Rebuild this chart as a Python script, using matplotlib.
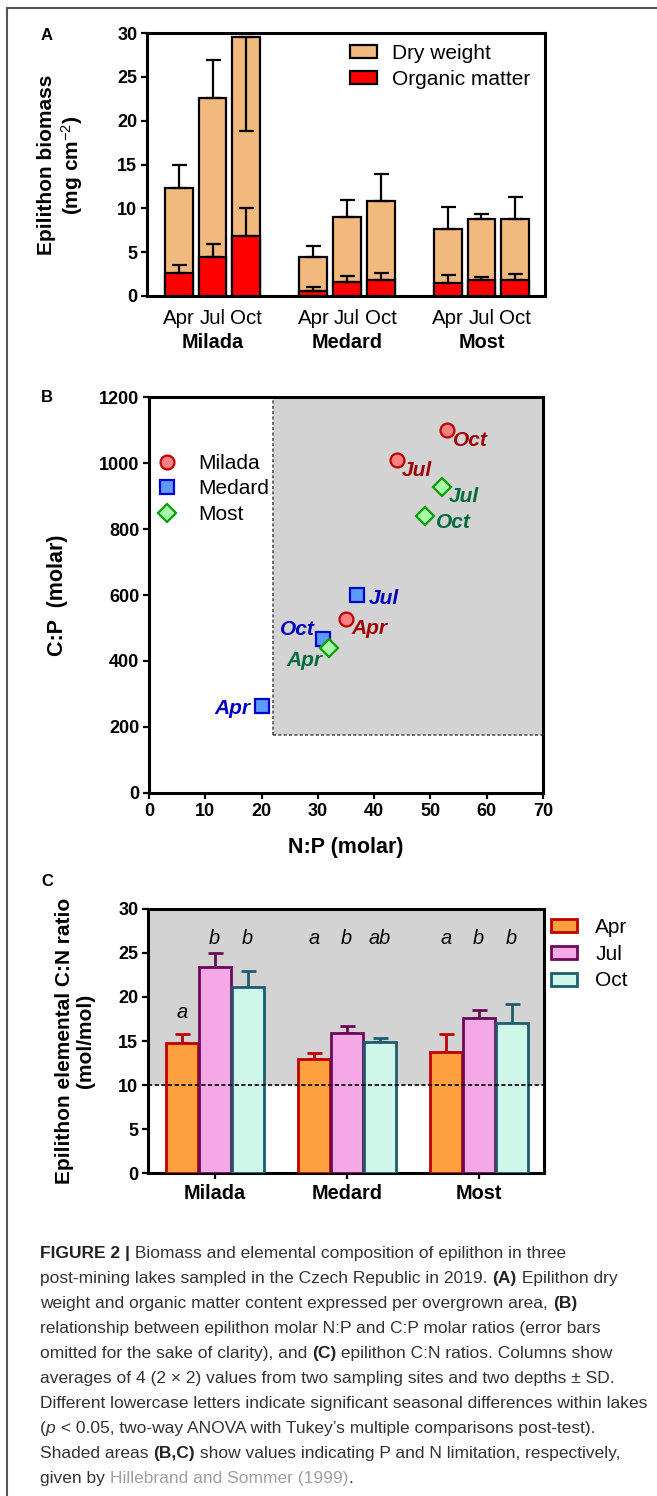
import numpy as np
import matplotlib.pyplot as plt
from matplotlib.lines import Line2D

plt.rcParams['font.family'] = ['Liberation Sans', 'DejaVu Sans']
plt.rcParams['mathtext.fontset'] = 'custom'
plt.rcParams['mathtext.rm'] = 'Liberation Sans'
plt.rcParams['mathtext.it'] = 'Liberation Sans:italic'
plt.rcParams['mathtext.bf'] = 'Liberation Sans:bold'

lakes = ['Milada', 'Medard', 'Most']
months = ['Apr', 'Jul', 'Oct']

# A: biomass (mg cm-2), order Milada Apr/Jul/Oct, Medard ..., Most ...
dry_weight = [12.3, 22.6, 29.5, 4.4, 9.0, 10.8, 7.6, 8.8, 8.8]
dry_sd_up = [2.7, 4.3, 0.0, 1.3, 1.9, 3.1, 2.5, 0.6, 2.5]
dry_sd_down = [0, 0, 10.7, 0, 0, 0, 0, 0, 0]
organic = [2.6, 4.5, 6.8, 0.6, 1.6, 1.8, 1.5, 1.8, 1.8]
organic_sd = [0.9, 1.4, 3.2, 0.4, 0.7, 0.8, 0.9, 0.4, 0.7]

# B: N:P vs C:P (molar), points Apr/Jul/Oct
np_ratio = {'Milada': [35, 44, 53], 'Medard': [20, 37, 31], 'Most': [32, 52, 49]}
cp_ratio = {'Milada': [527, 1008, 1101], 'Medard': [265, 601, 467], 'Most': [440, 927, 838]}
np_limit = 22
cp_limit = 175

# C: C:N ratio (mol/mol), per lake
cn_apr = [14.8, 12.9, 13.75]
cn_apr_sd = [0.95, 0.7, 2.0]
cn_jul = [23.4, 15.9, 17.6]
cn_jul_sd = [1.6, 0.85, 0.95]
cn_oct = [21.1, 14.85, 17.0]
cn_oct_sd = [1.85, 0.45, 2.25]
letters = [['a', 'b', 'b'], ['a', 'b', 'ab'], ['a', 'b', 'b']]
cn_limit = 10

W, H = 657, 1496
fig = plt.figure(figsize=(W / 100, H / 100), dpi=100)


def rect(l, t, r, b):
    return [l / W, 1 - b / H, (r - l) / W, (b - t) / H]


def style_axes(ax):
    for s in ax.spines.values():
        s.set_linewidth(2.2)
    ax.tick_params(width=1.6, length=4.5, labelsize=13, pad=2.5)
    for lab in ax.get_yticklabels():
        lab.set_fontweight('bold')


# ---------- A ----------
axA = fig.add_axes(rect(147, 33, 545, 296))
xa = [4 * g + m for g in range(len(lakes)) for m in range(len(months))]
axA.bar(xa, dry_weight, 0.83, color='#F2B97F', edgecolor='black', lw=1.6, zorder=2,
        label='Dry weight')
axA.errorbar(xa, dry_weight, yerr=[dry_sd_down, dry_sd_up], fmt='none', ecolor='black',
             elinewidth=1.6, capsize=5.4, capthick=1.6, zorder=3)
axA.bar(xa, organic, 0.83, color='#FF0000', edgecolor='black', lw=1.6, zorder=4,
        label='Organic matter')
axA.errorbar(xa, organic, yerr=[np.zeros(len(organic)), organic_sd], fmt='none',
             ecolor='black', elinewidth=1.6, capsize=5.4, capthick=1.6, zorder=5)
axA.set_ylim(0, 30)
axA.set_yticks(range(0, 31, 5))
axA.set_xlim(-0.95, 10.89)
style_axes(axA)
axA.set_xticks(xa, months * len(lakes))
axA.tick_params(axis='x', length=0, pad=9.5, labelsize=14.8)
for g, lake in enumerate(lakes):
    axA.text(4 * g + 1, -0.175, lake, transform=axA.get_xaxis_transform(),
             ha='center', va='center', fontweight='bold', fontsize=14.3)
axA.legend(loc='upper left', bbox_to_anchor=(0.51, 0.96), frameon=False, fontsize=15,
           handlelength=1.3, handleheight=0.58, handletextpad=0.7, labelspacing=0.35,
           borderpad=0, borderaxespad=0)

# ---------- B ----------
axB = fig.add_axes(rect(149, 397, 543, 793))
axB.fill_between([np_limit, 70], cp_limit, 1200, color='#D3D3D3', zorder=0, lw=0)
axB.plot([np_limit, np_limit], [cp_limit, 1200], ls=(0, (2, 1.5)), color='#444444', lw=1.1, zorder=1)
axB.plot([np_limit, 70], [cp_limit, cp_limit], ls=(0, (2, 1.5)), color='#444444', lw=1.1, zorder=1)

point_style = {
    'Milada': dict(marker='o', ms=10, mfc='#FF8080', mec='#C00000', text='#A00000'),
    'Medard': dict(marker='s', ms=9.5, mfc='#5B9BFF', mec='#0000CC', text='#0000C0'),
    'Most': dict(marker='D', ms=9, mfc='#A8FFA8', mec='#00A000', text='#006B3C'),
}
# label offsets in points (dx, dy, ha) for Apr, Jul, Oct
label_offsets = {
    'Milada': [(4, -7, 'left'), (4, -7, 'left'), (4, -8, 'left')],
    'Medard': [(-8, -2, 'right'), (8, -3, 'left'), (-6, 7, 'right')],
    'Most': [(-5, -9, 'right'), (5, -7, 'left'), (8, -4, 'left')],
}
handles = []
for lake in lakes:
    st = point_style[lake]
    axB.plot(np_ratio[lake], cp_ratio[lake], ls='none', marker=st['marker'], ms=st['ms'],
             mfc=st['mfc'], mec=st['mec'], mew=1.6, zorder=3, clip_on=False)
    for x, y, mon, (dx, dy, ha) in zip(np_ratio[lake], cp_ratio[lake], months, label_offsets[lake]):
        axB.annotate(mon, (x, y), xytext=(dx, dy), textcoords='offset points', ha=ha, va='center',
                     fontsize=15, fontweight='bold', style='italic', color=st['text'], zorder=4)
    handles.append(Line2D([], [], ls='none', marker=st['marker'], ms=st['ms'], mfc=st['mfc'],
                          mec=st['mec'], mew=1.6, label=lake))
axB.set_xlim(0, 70)
axB.set_ylim(0, 1200)
axB.set_xticks(range(0, 71, 10))
axB.set_yticks(range(0, 1201, 200))
style_axes(axB)
for lab in axB.get_xticklabels():
    lab.set_fontweight('bold')
axB.legend(handles=handles, loc='upper left', bbox_to_anchor=(0.02, 0.856), frameon=False,
           fontsize=15, handlelength=1.0, handletextpad=1.0, labelspacing=0.31,
           borderpad=0, borderaxespad=0)

# ---------- C ----------
axC = fig.add_axes(rect(148, 909, 544, 1173))
axC.axhspan(cn_limit, 30, color='#D3D3D3', zorder=0, lw=0)
axC.axhline(cn_limit, ls=(0, (2.5, 1.5)), color='black', lw=1.2, zorder=5)
series = [(cn_apr, cn_apr_sd, '#FFA040', '#C00000'),
          (cn_jul, cn_jul_sd, '#F4A9E6', '#6B0A55'),
          (cn_oct, cn_oct_sd, '#CFF7E9', '#1D5E6E')]
letter_y = [[18.2, 26.6, 26.6], [26.6, 26.6, 26.6], [26.6, 26.6, 26.6]]
for m, (vals, sds, fc, ec) in enumerate(series):
    xc = [4 * g + m - 1 for g in range(len(lakes))]
    axC.bar(xc, vals, 0.97, color=fc, edgecolor=ec, lw=2, zorder=3, label=months[m])
    axC.errorbar(xc, vals, yerr=[np.zeros(len(vals)), sds], fmt='none', ecolor=ec,
                 elinewidth=2, capsize=5.4, capthick=2, zorder=2)
    for g in range(len(lakes)):
        axC.text(xc[g], letter_y[g][m], letters[g][m], ha='center', va='center',
                 style='italic', fontsize=14.4, zorder=6)
axC.set_ylim(0, 30)
axC.set_yticks(range(0, 31, 5))
axC.set_xlim(-2.02, 9.98)
style_axes(axC)
axC.set_xticks([4 * g for g in range(len(lakes))], lakes)
axC.tick_params(axis='x', labelsize=14.3, pad=3.5)
for lab in axC.get_xticklabels():
    lab.set_fontweight('bold')
axC.legend(loc='upper left', bbox_to_anchor=(1.018, 0.966), frameon=False, fontsize=15,
           handlelength=1.25, handleheight=0.58, handletextpad=0.87, labelspacing=0.37,
           borderpad=0, borderaxespad=0)

# ---------- labels ----------
fig.text(61 / W, 1 - 165 / H, 'Epilithon biomass\n(mg cm$^{-2}$)', rotation=90, ha='center',
         va='center', multialignment='center', fontweight='bold', fontsize=15, linespacing=1.2)
fig.text(57 / W, 1 - 595 / H, 'C:P  (molar)', rotation=90, ha='center', va='center',
         fontweight='bold', fontsize=15.5)
fig.text(346 / W, 1 - 847 / H, 'N:P (molar)', ha='center', va='center',
         fontweight='bold', fontsize=15.5)
fig.text(75 / W, 1 - 1041 / H, 'Epilithon elemental C:N ratio\n(mol/mol)', rotation=90,
         ha='center', va='center', multialignment='center', fontweight='bold', fontsize=15,
         linespacing=1.2)
for lab, (px, py) in zip('ABC', [(47, 35), (47, 397), (47, 881)]):
    fig.text(px / W, 1 - py / H, lab, ha='center', va='center', fontweight='bold', fontsize=12)

# frame around the figure
fig.add_artist(Line2D([7 / W, 1], [1 - 8 / H, 1 - 8 / H], color='#555555', lw=1.5))
fig.add_artist(Line2D([7 / W, 7 / W], [0, 1 - 8 / H], color='#555555', lw=1.5))

# ---------- caption ----------
caption = [
    [('FIGURE 2 |', 'b'), (' Biomass and elemental composition of epilithon in three', 'n')],
    [('post-mining lakes sampled in the Czech Republic in 2019. ', 'n'), ('(A)', 'b'),
     (' Epilithon dry', 'n')],
    [('weight and organic matter content expressed per overgrown area, ', 'n'), ('(B)', 'b')],
    [('relationship between epilithon molar N:P and C:P molar ratios (error bars', 'n')],
    [('omitted for the sake of clarity), and ', 'n'), ('(C)', 'b'),
     (' epilithon C:N ratios. Columns show', 'n')],
    [('averages of 4 (2 \u00d7 2) values from two sampling sites and two depths \u00b1 SD.', 'n')],
    [('Different lowercase letters indicate significant seasonal differences within lakes', 'n')],
    [('(', 'n'), ('p', 'i'), (' < 0.05, two-way ANOVA with Tukey\u2019s multiple comparisons post-test).', 'n')],
    [('Shaded areas ', 'n'), ('(B,C)', 'b'), (' show values indicating P and N limitation, respectively,', 'n')],
    [('given by ', 'n'), ('Hillebrand and Sommer (1999)', 'g'), ('.', 'n')],
]
renderer = fig.canvas.get_renderer()


def run_kwargs(kind, size):
    kw = dict(fontsize=size, color='#333333')
    if kind == 'b':
        kw.update(fontweight='bold', color='#222222')
    elif kind == 'i':
        kw['style'] = 'italic'
    elif kind == 'g':
        kw['color'] = '#A0A0A0'
    return kw


def text_width(s, kw):
    t = fig.text(0, 0, '|' + s + '|', **kw)
    t0 = fig.text(0, 0, '||', **kw)
    w = t.get_window_extent(renderer).width - t0.get_window_extent(renderer).width
    t.remove()
    t0.remove()
    return w


# fit the widest line to the measured width
w10 = sum(text_width(s, run_kwargs(k, 10)) for s, k in caption[6])
cap_size = 10 * 607 / w10
x0, y0, dy = 40, 1258, 25
for i, line in enumerate(caption):
    x = x0
    for s, k in line:
        kw = run_kwargs(k, cap_size)
        fig.text(x / W, 1 - (y0 + i * dy) / H, s, va='baseline', ha='left', **kw)
        x += text_width(s, kw)

fig.savefig('out.png', dpi=100)
